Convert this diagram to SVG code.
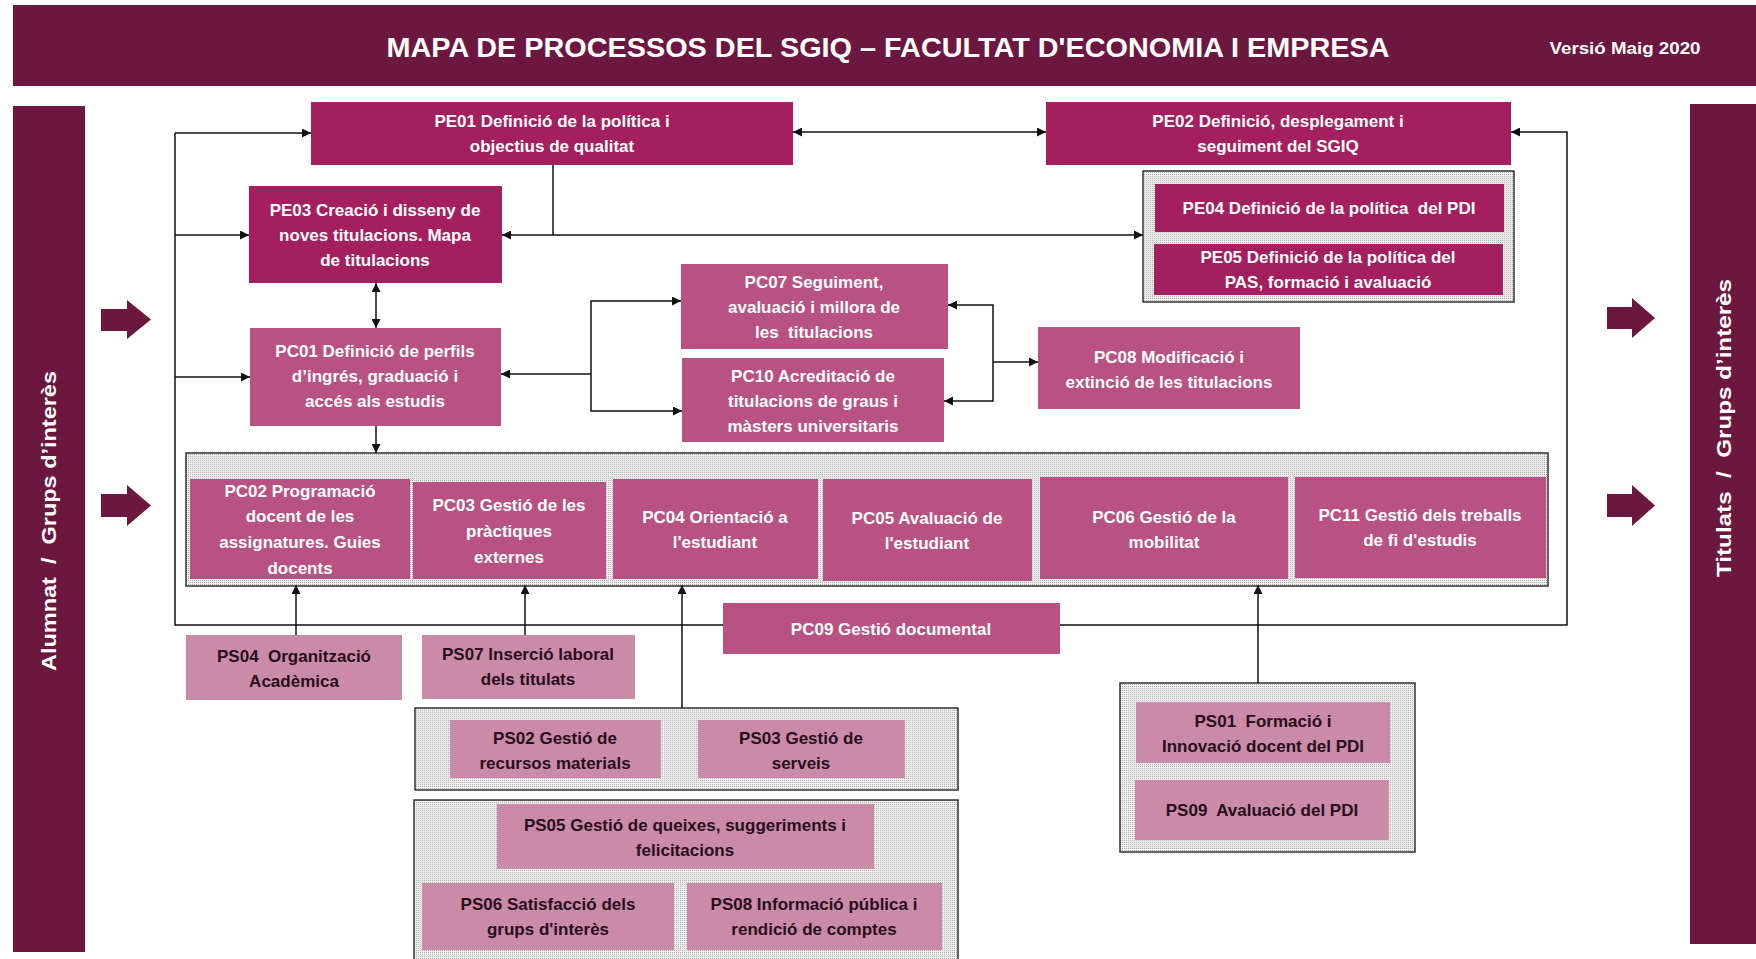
<svg xmlns="http://www.w3.org/2000/svg" width="1756" height="959" viewBox="0 0 1756 959">
<style>
.hdr{fill:#6B1740}
.pe{fill:#A41F5E}
.pc{fill:#B85282}
.ps{fill:#C98BA8}
.grp{fill:url(#dots);stroke:#333;stroke-width:1.5}
.t{font-family:"Liberation Sans",Arial,sans-serif;font-weight:bold;font-size:17px;fill:#fff;text-anchor:middle;white-space:pre}
.d{font-family:"Liberation Sans",Arial,sans-serif;font-weight:bold;font-size:17px;fill:#2a0d1c;text-anchor:middle;white-space:pre}
.side{font-family:"Liberation Sans",Arial,sans-serif;font-weight:bold;font-size:20px;fill:#fff;text-anchor:middle;white-space:pre}
.ln{fill:none;stroke:#111;stroke-width:1.5}
.blk{fill:#6B1740}
</style>
<defs>
<pattern id="dots" width="2" height="2" patternUnits="userSpaceOnUse">
<rect width="2" height="2" fill="#eeeeee"/>
<rect width="1" height="1" fill="#b0b0b0"/>
</pattern>
<marker id="ah" viewBox="0 0 10 10" refX="10" refY="5" markerWidth="10" markerHeight="9" markerUnits="userSpaceOnUse" orient="auto-start-reverse">
<path d="M0,0 L10,5 L0,10 z" fill="#111"/>
</marker>
</defs>
<rect width="1756" height="959" fill="#fff"/>

<g id="header">
<rect class="hdr" x="13" y="5" width="1743" height="81"/>
<text x="888" y="57" font-family="Liberation Sans,Arial,sans-serif" font-weight="bold" font-size="27" fill="#fff" text-anchor="middle" textLength="1003" lengthAdjust="spacingAndGlyphs">MAPA DE PROCESSOS DEL SGIQ – FACULTAT D'ECONOMIA I EMPRESA</text>
<text x="1625" y="54" font-family="Liberation Sans,Arial,sans-serif" font-weight="bold" font-size="17" fill="#fff" text-anchor="middle" textLength="151" lengthAdjust="spacingAndGlyphs">Versió Maig 2020</text>
</g>

<g id="side-left">
<rect class="hdr" x="13" y="106" width="72" height="846"/>
<text class="side" transform="translate(56,521) rotate(-90)" textLength="300" lengthAdjust="spacingAndGlyphs">Alumnat  /  Grups d’interès</text>
</g>
<g id="side-right">
<rect class="hdr" x="1690" y="104" width="66" height="840"/>
<text class="side" transform="translate(1731,428) rotate(-90)" textLength="298" lengthAdjust="spacingAndGlyphs">Titulats  /  Grups d’interès</text>
</g>

<g id="block-arrows">
<polygon class="blk" points="101,309 127,309 127,300 151,319.5 127,339 127,331 101,331"/>
<polygon class="blk" points="101,494 127,494 127,485 151,505.5 127,526 127,517 101,517"/>
<polygon class="blk" points="1607,307 1632,307 1632,298 1655,318 1632,338 1632,329 1607,329"/>
<polygon class="blk" points="1607,494 1632,494 1632,485 1655,505.5 1632,526 1632,517 1607,517"/>
</g>

<g id="groups">
<rect id="grp-pe" class="grp" x="1143" y="171" width="371" height="131"/>
<rect id="grp-pc" class="grp" x="186" y="453" width="1362" height="133"/>
<rect id="grp-ps23" class="grp" x="415" y="708" width="543" height="82"/>
<rect id="grp-ps568" class="grp" x="414" y="800" width="544" height="165"/>
<rect id="grp-ps19" class="grp" x="1120" y="683" width="295" height="169"/>
</g>

<g id="connectors">
<polyline class="ln" points="175,133 175,625 723,625"/>
<line class="ln" x1="175" y1="133" x2="311" y2="133" marker-end="url(#ah)"/>
<line class="ln" x1="175" y1="235" x2="249" y2="235" marker-end="url(#ah)"/>
<line class="ln" x1="175" y1="377" x2="250" y2="377" marker-end="url(#ah)"/>
<polyline class="ln" points="1060,625 1567,625 1567,132 1511,132" marker-end="url(#ah)"/>
<line class="ln" x1="793" y1="132" x2="1046" y2="132" marker-start="url(#ah)" marker-end="url(#ah)"/>
<line class="ln" x1="553" y1="165" x2="553" y2="235"/>
<line class="ln" x1="502" y1="235" x2="1143" y2="235" marker-start="url(#ah)" marker-end="url(#ah)"/>
<line class="ln" x1="376" y1="283" x2="376" y2="328" marker-start="url(#ah)" marker-end="url(#ah)"/>
<line class="ln" x1="376" y1="426" x2="376" y2="453" marker-end="url(#ah)"/>
<polyline class="ln" points="681,301 591,301 591,411 682,411" marker-start="url(#ah)" marker-end="url(#ah)"/>
<line class="ln" x1="591" y1="374" x2="501" y2="374" marker-end="url(#ah)"/>
<polyline class="ln" points="948,305 993,305 993,401 944,401" marker-start="url(#ah)" marker-end="url(#ah)"/>
<line class="ln" x1="993" y1="362" x2="1038" y2="362" marker-end="url(#ah)"/>
<line class="ln" x1="296" y1="635" x2="296" y2="585" marker-end="url(#ah)"/>
<line class="ln" x1="525" y1="635" x2="525" y2="585" marker-end="url(#ah)"/>
<line class="ln" x1="682" y1="708" x2="682" y2="585" marker-end="url(#ah)"/>
<line class="ln" x1="1258" y1="683" x2="1258" y2="585" marker-end="url(#ah)"/>
</g>

<g id="PE01"><rect class="pe" x="311" y="102" width="482" height="63"/>
<text class="t" x="552" y="127">PE01 Definició de la política i</text>
<text class="t" x="552" y="152">objectius de qualitat</text></g>
<g id="PE02"><rect class="pe" x="1046" y="102" width="465" height="63"/>
<text class="t" x="1278" y="127">PE02 Definició, desplegament i</text>
<text class="t" x="1278" y="152">seguiment del SGIQ</text></g>
<g id="PE03"><rect class="pe" x="249" y="186" width="253" height="97"/>
<text class="t" x="375" y="216">PE03 Creació i disseny de</text>
<text class="t" x="375" y="241">noves titulacions. Mapa</text>
<text class="t" x="375" y="266">de titulacions</text></g>
<g id="PE04"><rect class="pe" x="1155" y="184" width="349" height="48"/>
<text class="t" x="1329" y="214">PE04 Definició de la política  del PDI</text></g>
<g id="PE05"><rect class="pe" x="1154" y="244" width="349" height="51"/>
<text class="t" x="1328" y="263">PE05 Definició de la política del</text>
<text class="t" x="1328" y="288">PAS, formació i avaluació</text></g>

<g id="PC07"><rect class="pc" x="681" y="264" width="267" height="85"/>
<text class="t" x="814" y="288">PC07 Seguiment,</text>
<text class="t" x="814" y="313">avaluació i millora de</text>
<text class="t" x="814" y="338">les  titulacions</text></g>
<g id="PC10"><rect class="pc" x="682" y="358" width="262" height="84"/>
<text class="t" x="813" y="382">PC10 Acreditació de</text>
<text class="t" x="813" y="407">titulacions de graus i</text>
<text class="t" x="813" y="432">màsters universitaris</text></g>
<g id="PC01"><rect class="pc" x="250" y="328" width="251" height="98"/>
<text class="t" x="375" y="357">PC01 Definició de perfils</text>
<text class="t" x="375" y="382">d’ingrés, graduació i</text>
<text class="t" x="375" y="407">accés als estudis</text></g>
<g id="PC08"><rect class="pc" x="1038" y="327" width="262" height="82"/>
<text class="t" x="1169" y="363">PC08 Modificació i</text>
<text class="t" x="1169" y="388">extinció de les titulacions</text></g>

<g id="PC02"><rect class="pc" x="190" y="479" width="220" height="100"/>
<text class="t" x="300" y="497">PC02 Programació</text>
<text class="t" x="300" y="522">docent de les</text>
<text class="t" x="300" y="548">assignatures. Guies</text>
<text class="t" x="300" y="574">docents</text></g>
<g id="PC03"><rect class="pc" x="413" y="482" width="193" height="97"/>
<text class="t" x="509" y="511">PC03 Gestió de les</text>
<text class="t" x="509" y="537">pràctiques</text>
<text class="t" x="509" y="563">externes</text></g>
<g id="PC04"><rect class="pc" x="613" y="479" width="205" height="100"/>
<text class="t" x="715" y="523">PC04 Orientació a</text>
<text class="t" x="715" y="548">l'estudiant</text></g>
<g id="PC05"><rect class="pc" x="823" y="479" width="209" height="102"/>
<text class="t" x="927" y="524">PC05 Avaluació de</text>
<text class="t" x="927" y="549">l'estudiant</text></g>
<g id="PC06"><rect class="pc" x="1040" y="477" width="248" height="102"/>
<text class="t" x="1164" y="523">PC06 Gestió de la</text>
<text class="t" x="1164" y="548">mobilitat</text></g>
<g id="PC11"><rect class="pc" x="1295" y="477" width="251" height="101"/>
<text class="t" x="1420" y="521">PC11 Gestió dels treballs</text>
<text class="t" x="1420" y="546">de fi d'estudis</text></g>
<g id="PC09"><rect class="pc" x="723" y="603" width="337" height="51"/>
<text class="t" x="891" y="635">PC09 Gestió documental</text></g>

<g id="PS04"><rect class="ps" x="186" y="635" width="216" height="65"/>
<text class="d" x="294" y="662">PS04  Organització</text>
<text class="d" x="294" y="687">Acadèmica</text></g>
<g id="PS07"><rect class="ps" x="422" y="635" width="213" height="64"/>
<text class="d" x="528" y="660">PS07 Inserció laboral</text>
<text class="d" x="528" y="685">dels titulats</text></g>
<g id="PS02"><rect class="ps" x="450" y="720" width="211" height="58"/>
<text class="d" x="555" y="744">PS02 Gestió de</text>
<text class="d" x="555" y="769">recursos materials</text></g>
<g id="PS03"><rect class="ps" x="698" y="720" width="207" height="58"/>
<text class="d" x="801" y="744">PS03 Gestió de</text>
<text class="d" x="801" y="769">serveis</text></g>
<g id="PS05"><rect class="ps" x="497" y="804" width="377" height="65"/>
<text class="d" x="685" y="831">PS05 Gestió de queixes, suggeriments i</text>
<text class="d" x="685" y="856">felicitacions</text></g>
<g id="PS06"><rect class="ps" x="422" y="883" width="252" height="67"/>
<text class="d" x="548" y="910">PS06 Satisfacció dels</text>
<text class="d" x="548" y="935">grups d'interès</text></g>
<g id="PS08"><rect class="ps" x="687" y="883" width="255" height="67"/>
<text class="d" x="814" y="910">PS08 Informació pública i</text>
<text class="d" x="814" y="935">rendició de comptes</text></g>
<g id="PS01"><rect class="ps" x="1136" y="702" width="254" height="61"/>
<text class="d" x="1263" y="727">PS01  Formació i</text>
<text class="d" x="1263" y="752">Innovació docent del PDI</text></g>
<g id="PS09"><rect class="ps" x="1135" y="780" width="254" height="60"/>
<text class="d" x="1262" y="816">PS09  Avaluació del PDI</text></g>
</svg>
